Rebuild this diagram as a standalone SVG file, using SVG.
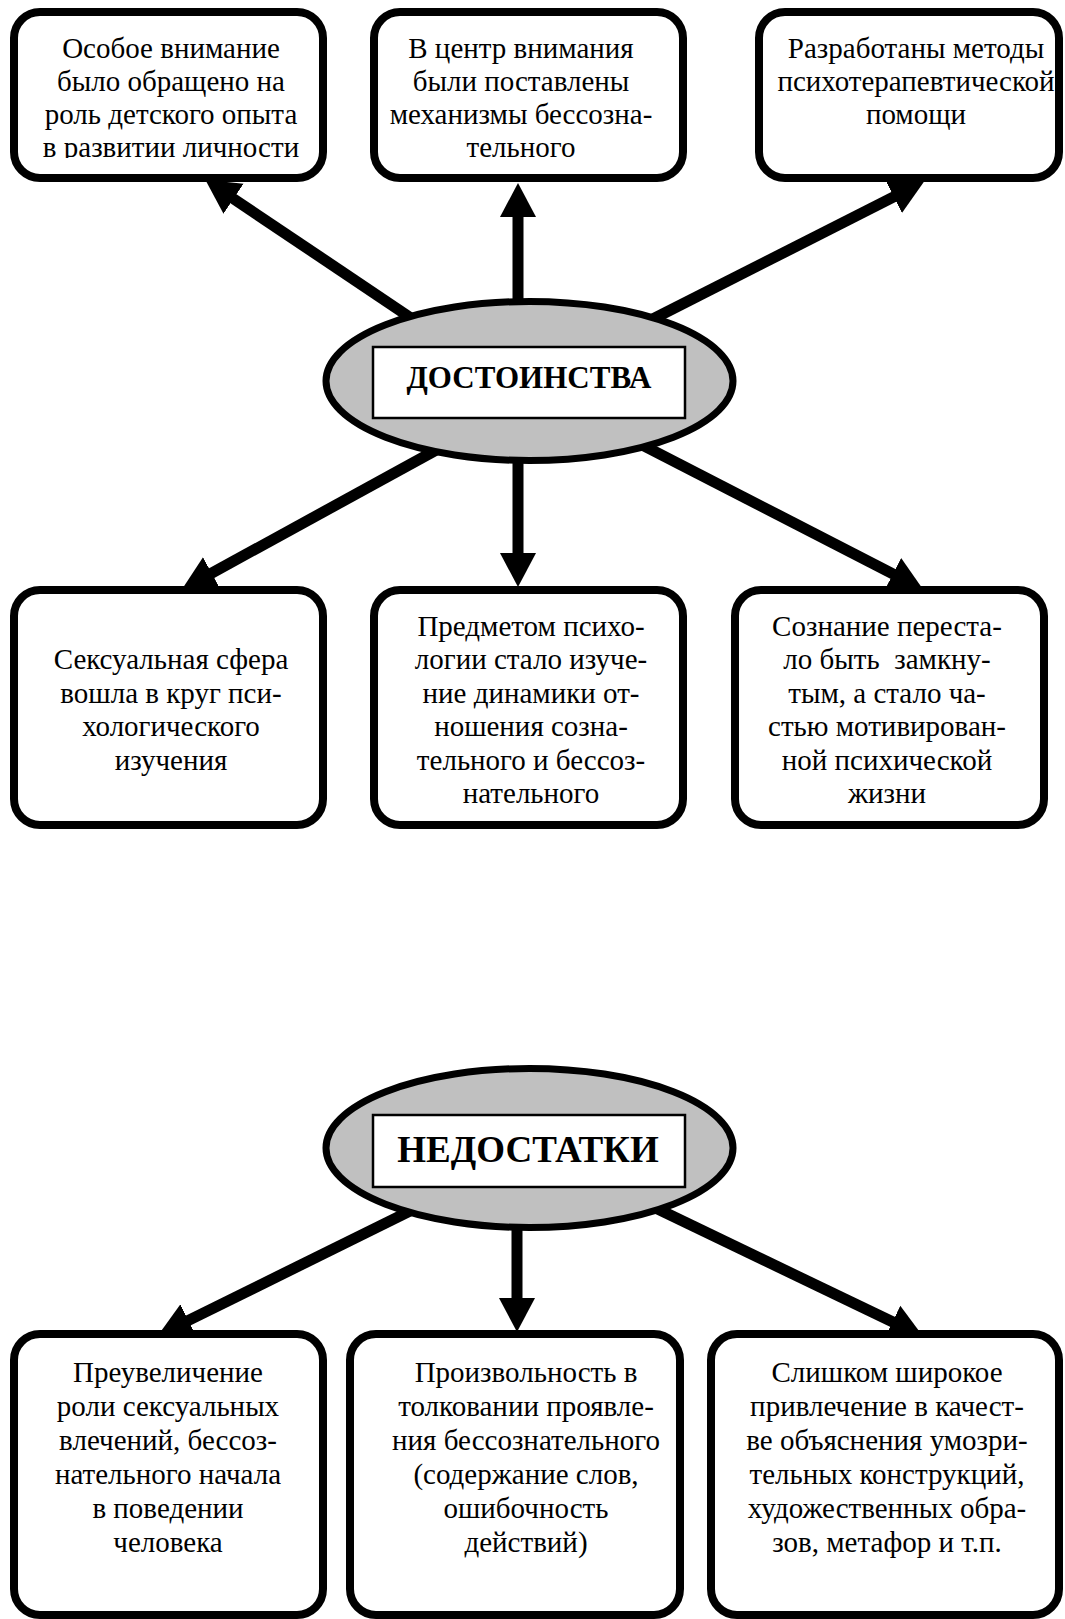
<svg xmlns="http://www.w3.org/2000/svg" width="1065" height="1619" viewBox="0 0 1065 1619">
<style>
.box{fill:#fff;stroke:#000;stroke-width:8}
.ell{fill:#c0c0c0;stroke:#000;stroke-width:7}
.lbl{fill:#fff;stroke:#000;stroke-width:2.5}
.t{font-family:"Liberation Serif","Times New Roman","DejaVu Serif",serif;font-size:29px;fill:#000;text-anchor:middle}
.h{font-family:"Liberation Serif","Times New Roman","DejaVu Serif",serif;font-weight:bold;fill:#000;text-anchor:middle}
.c{fill:none;stroke:#000;stroke-width:11;marker-end:url(#ah)}
</style>
<defs>
<marker id="ah" markerUnits="userSpaceOnUse" markerWidth="36" markerHeight="38" viewBox="0 -19 36 38" refX="1" refY="0" orient="auto">
<path d="M0,-18 L34,0 L0,18 z" fill="#000"/>
</marker>
<clipPath id="clipTop"><rect x="0" y="0" width="1065" height="158"/></clipPath>
</defs>
<g id="connectors">
<path class="c" d="M426.9,328.7 L232.7,198.2"/>
<path class="c" d="M518,320 L518,216"/>
<path class="c" d="M643,324 L894.7,196.4"/>
<path class="c" d="M441.1,447.4 L210.8,573.6"/>
<path class="c" d="M518,440 L518,554"/>
<path class="c" d="M634.2,440.8 L893.8,574.4"/>
<path class="c" d="M413.9,1209.1 L187.5,1320.9"/>
<path class="c" d="M517,1200 L517,1299"/>
<path class="c" d="M652,1206.3 L893.4,1322.3"/>
</g>
<g id="node-a">
<rect class="box" x="14" y="12" width="309" height="166" rx="26"/>
<g clip-path="url(#clipTop)">
<text class="t" x="171" y="58">Особое внимание</text>
<text class="t" x="171" y="91">было обращено на</text>
<text class="t" x="171" y="124">роль детского опыта</text>
<text class="t" x="171" y="157">в развитии личности</text>
</g>
</g>
<g id="node-b">
<rect class="box" x="374" y="12" width="309" height="166" rx="26"/>
<text class="t" x="521" y="58">В центр внимания</text>
<text class="t" x="521" y="91">были поставлены</text>
<text class="t" x="521" y="124">механизмы бессозна-</text>
<text class="t" x="521" y="157">тельного</text>
</g>
<g id="node-c">
<rect class="box" x="759" y="12" width="300" height="166" rx="26"/>
<text class="t" x="916" y="58">Разработаны методы</text>
<text class="t" x="916" y="91">психотерапевтической</text>
<text class="t" x="916" y="124">помощи</text>
</g>
<g id="node-dostoinstva">
<ellipse class="ell" cx="529.5" cy="381" rx="203.5" ry="79.5"/>
<rect class="lbl" x="373" y="347" width="312" height="71"/>
<text class="h" x="529" y="388" font-size="31">ДОСТОИНСТВА</text>
</g>
<g id="node-d">
<rect class="box" x="14" y="590" width="309" height="235" rx="26"/>
<text class="t" x="171" y="669">Сексуальная сфера</text>
<text class="t" x="171" y="703">вошла в круг пси-</text>
<text class="t" x="171" y="736">хологического</text>
<text class="t" x="171" y="770">изучения</text>
</g>
<g id="node-e">
<rect class="box" x="374" y="590" width="309" height="235" rx="26"/>
<text class="t" x="531" y="636">Предметом психо-</text>
<text class="t" x="531" y="669">логии стало изуче-</text>
<text class="t" x="531" y="703">ние динамики от-</text>
<text class="t" x="531" y="736">ношения созна-</text>
<text class="t" x="531" y="770">тельного и бессоз-</text>
<text class="t" x="531" y="803">нательного</text>
</g>
<g id="node-f">
<rect class="box" x="735" y="590" width="309" height="235" rx="26"/>
<text class="t" x="887" y="636">Сознание переста-</text>
<text class="t" x="887" y="669" xml:space="preserve">ло быть  замкну-</text>
<text class="t" x="887" y="703">тым, а стало ча-</text>
<text class="t" x="887" y="736">стью мотивирован-</text>
<text class="t" x="887" y="770">ной психической</text>
<text class="t" x="887" y="803">жизни</text>
</g>
<g id="node-nedostatki">
<ellipse class="ell" cx="529.5" cy="1148" rx="203.5" ry="79.5"/>
<rect class="lbl" x="373" y="1115" width="312" height="72"/>
<text class="h" x="528" y="1162" font-size="37">НЕДОСТАТКИ</text>
</g>
<g id="node-g">
<rect class="box" x="14" y="1334" width="309" height="281" rx="26"/>
<text class="t" x="168" y="1382">Преувеличение</text>
<text class="t" x="168" y="1416">роли сексуальных</text>
<text class="t" x="168" y="1450">влечений, бессоз-</text>
<text class="t" x="168" y="1484">нательного начала</text>
<text class="t" x="168" y="1518">в поведении</text>
<text class="t" x="168" y="1552">человека</text>
</g>
<g id="node-h">
<rect class="box" x="350" y="1334" width="330" height="281" rx="26"/>
<text class="t" x="526" y="1382">Произвольность в</text>
<text class="t" x="526" y="1416">толковании проявле-</text>
<text class="t" x="526" y="1450">ния бессознательного</text>
<text class="t" x="526" y="1484">(содержание слов,</text>
<text class="t" x="526" y="1518">ошибочность</text>
<text class="t" x="526" y="1552">действий)</text>
</g>
<g id="node-i">
<rect class="box" x="711" y="1334" width="348" height="281" rx="26"/>
<text class="t" x="887" y="1382">Слишком широкое</text>
<text class="t" x="887" y="1416">привлечение в качест-</text>
<text class="t" x="887" y="1450">ве объяснения умозри-</text>
<text class="t" x="887" y="1484">тельных конструкций,</text>
<text class="t" x="887" y="1518">художественных обра-</text>
<text class="t" x="887" y="1552">зов, метафор и т.п.</text>
</g>
</svg>
